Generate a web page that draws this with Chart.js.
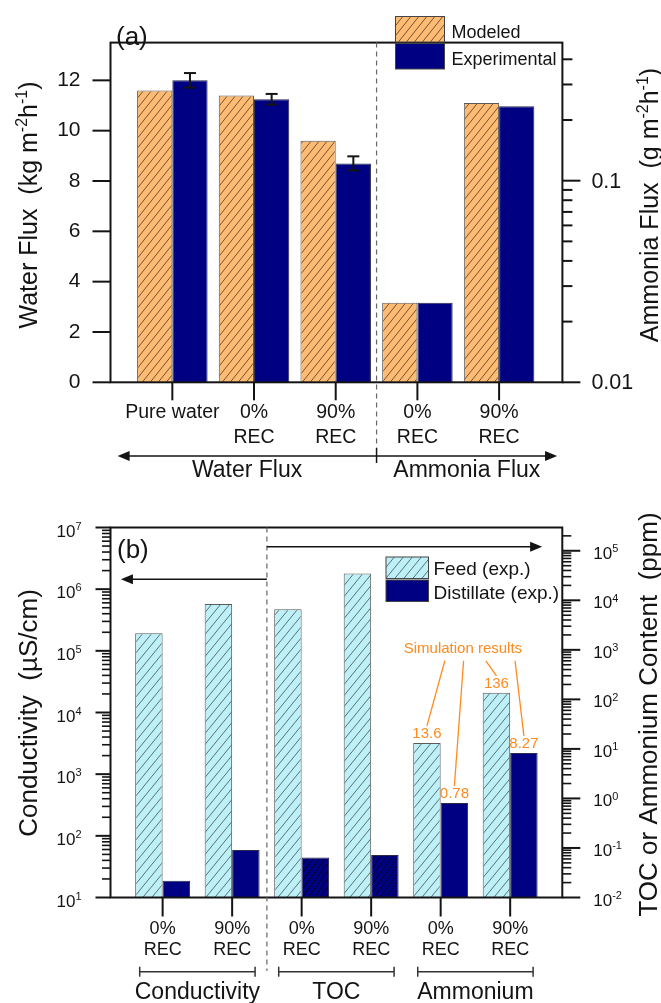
<!DOCTYPE html>
<html>
<head>
<meta charset="utf-8">
<script src="https://cdn.jsdelivr.net/npm/chart.js@4.4.1/dist/chart.umd.min.js"></script>
<style>
  html, body { margin: 0; padding: 0; background: #fff; }
  #wrapA { position: absolute; left: 0; top: 0; }
  #wrapB { position: absolute; left: 0; top: 500px; }
</style>
</head>
<body>
<div id="wrapA"><canvas id="chartA" width="661" height="500"></canvas></div>
<div id="wrapB"><canvas id="chartB" width="661" height="503"></canvas></div>
<script>
'use strict';

// (a) water flux (left axis) and ammonia flux (right, log axis)
const labelsA = [['Pure water'], ['0%', 'REC'], ['90%', 'REC'], ['0%', 'REC'], ['90%', 'REC']];
const waterModeled = [11.6, 11.4, 9.6, null, null];
const waterExp = [12.0, 11.25, 8.7, null, null];
const waterErr = [0.29, 0.21, 0.28, null, null];
const ammoniaModeled = [null, null, null, 0.0248, 0.243];
const ammoniaExp = [null, null, null, 0.0248, 0.234];
const ticksA = [0, 2, 4, 6, 8, 10, 12];
const ticksA2 = [0.01, 0.1];
const groupsA = ['Water Flux', 'Ammonia Flux'];

// (b) feed / distillate, conductivity on the left, TOC + ammonium on the right
const labelsB = [['0%', 'REC'], ['90%', 'REC'], ['0%', 'REC'], ['90%', 'REC'], ['0%', 'REC'], ['90%', 'REC']];
const feedCond = [1.92e5, 5.74e5, null, null, null, null];
const distCond = [18.7, 59, null, null, null, null];
const feedPpm = [null, null, 6600, 34900, 13.2, 136];
const distPpm = [null, null, 0.064, 0.0725, 0.81, 8.3];
const simFeed = [null, null, null, null, '13.6', '136'];
const simDist = [null, null, null, null, '0.78', '8.27'];
const groupsB = ['Conductivity', 'TOC', 'Ammonium'];

const FONT = "'Liberation Sans', Arial, Helvetica, sans-serif";
const INK = '#141414';
const ORANGE = '#FDBB73';
const NAVY = '#000082';
const CYAN = '#BDF0F7';
const SIM = '#FF8A1E';

function hatch(bg, ink, w, h) {
    const c = document.createElement('canvas');
    c.width = w; c.height = h;
    const g = c.getContext('2d');
    g.fillStyle = bg;
    g.fillRect(0, 0, w, h);
    g.strokeStyle = ink;
    g.lineWidth = 1;
    for (let k = -1; k <= 1; k++) {
        g.beginPath(); g.moveTo(k * w, h); g.lineTo(k * w + w, 0); g.stroke();
    }
    return g.createPattern(c, 'repeat');
}

const patModel = hatch(ORANGE, 'rgba(95,65,35,0.85)', 8, 10);
const patFeed = hatch(CYAN, 'rgba(70,80,90,0.8)', 9, 11);
const patNavy = hatch(NAVY, 'rgba(0,0,25,0.9)', 6, 8);

const pts = (arr) => arr.map((v, i) => ({x: i, y: v}));

function line(ctx, x1, y1, x2, y2) {
    ctx.beginPath(); ctx.moveTo(x1, y1); ctx.lineTo(x2, y2); ctx.stroke();
}

function head(ctx, x, y, dir) {
    ctx.beginPath();
    ctx.moveTo(x, y);
    ctx.lineTo(x - dir * 12, y - 5);
    ctx.lineTo(x - dir * 12, y + 5);
    ctx.closePath();
    ctx.fill();
}

function logValues(min, max) {
    const out = [];
    for (let e = Math.floor(Math.log10(min)); e <= Math.ceil(Math.log10(max)); e++) {
        for (let m = 1; m <= 9; m++) {
            const v = m * Math.pow(10, e);
            if (v >= min * 0.999 && v <= max * 1.001) out.push({v, m, e});
        }
    }
    return out;
}

// parts: [text, isSuperscript], y is the baseline
function supText(ctx, parts, x, y, size, align) {
    const small = Math.round(size * 0.62);
    let w = 0;
    const widths = parts.map(([t, s]) => {
        ctx.font = `${s ? small : size}px ${FONT}`;
        const m = ctx.measureText(t).width;
        w += m;
        return m;
    });
    let cx = align === 'center' ? x - w / 2 : align === 'right' ? x - w : x;
    ctx.textAlign = 'left';
    ctx.textBaseline = 'alphabetic';
    parts.forEach(([t, s], i) => {
        ctx.font = `${s ? small : size}px ${FONT}`;
        ctx.fillText(t, cx, s ? y - size * 0.4 : y);
        cx += widths[i];
    });
}

function rotText(ctx, parts, cx, cy, size) {
    ctx.save();
    ctx.translate(cx, cy);
    ctx.rotate(-Math.PI / 2);
    supText(ctx, parts, 0, size * 0.35, size, 'center');
    ctx.restore();
}

function text(ctx, t, x, y, size, align, color) {
    ctx.font = `${size}px ${FONT}`;
    ctx.textAlign = align;
    ctx.textBaseline = 'alphabetic';
    ctx.fillStyle = color || INK;
    ctx.fillText(t, x, y);
}

const hidden = {display: false, drawTicks: false};

// ---------------- chart (a) ----------------
const extrasA = {
    id: 'extrasA',
    afterDatasetsDraw(chart) {
        const ctx = chart.ctx;
        const y = chart.scales.y;
        const meta = chart.getDatasetMeta(1);
        ctx.save();
        ctx.strokeStyle = INK;
        ctx.lineWidth = 2;
        waterErr.forEach((err, i) => {
            if (err == null) return;
            const bx = meta.data[i].x;
            const top = y.getPixelForValue(waterExp[i] + err);
            const bot = y.getPixelForValue(waterExp[i] - err);
            line(ctx, bx, top, bx, bot);
            line(ctx, bx - 6, top, bx + 6, top);
            line(ctx, bx - 6, bot, bx + 6, bot);
        });
        ctx.restore();
    },
    afterDraw(chart) {
        const {ctx, chartArea: a} = chart;
        const {x, y, y2} = chart.scales;
        ctx.save();
        ctx.strokeStyle = INK;
        ctx.fillStyle = INK;
        ctx.lineWidth = 2;
        ctx.strokeRect(a.left, a.top, a.width, a.height);

        ticksA.forEach(v => {
            const py = y.getPixelForValue(v);
            line(ctx, a.left - 18, py, a.left, py);
        });
        logValues(y2.min, y2.max).forEach(t => {
            const py = y2.getPixelForValue(t.v);
            line(ctx, a.right, py, a.right + (t.m === 1 ? 18 : 10), py);
        });
        ctx.font = `21.5px ${FONT}`;
        ctx.textAlign = 'left';
        ctx.textBaseline = 'middle';
        ticksA2.forEach(v => ctx.fillText(String(v), a.right + 29, y2.getPixelForValue(v) + 1));

        labelsA.forEach((_, i) => {
            const px = x.getPixelForValue(i);
            line(ctx, px, a.bottom, px, a.bottom + 18);
        });

        // divider between the two groups
        const xm = x.getPixelForValue(2.5);
        ctx.save();
        ctx.strokeStyle = '#666';
        ctx.lineWidth = 1.2;
        ctx.setLineDash([5, 4]);
        line(ctx, xm, a.top, xm, 448);
        ctx.restore();

        // group arrows
        const xl = x.getPixelForValue(-0.67);
        const xr = x.getPixelForValue(4.71);
        ctx.lineWidth = 1.5;
        line(ctx, xl + 4, 456, xr - 4, 456);
        line(ctx, xm, 448, xm, 463);
        head(ctx, xl, 456, -1);
        head(ctx, xr, 456, 1);
        text(ctx, groupsA[0], (xl + xm) / 2, 477, 23, 'center');
        text(ctx, groupsA[1], (xm + xr) / 2, 477, 23, 'center');

        text(ctx, '(a)', 116, 45, 26, 'left');

        // legend
        const ds = chart.data.datasets;
        [[patModel, 16.5, 37.5], [NAVY, 43.5, 64.8]].forEach(([fill, top, base], k) => {
            ctx.fillStyle = fill;
            ctx.fillRect(395.5, top, 49, 25.5);
            ctx.strokeStyle = '#444';
            ctx.lineWidth = 1;
            ctx.strokeRect(395.5, top, 49, 25.5);
            text(ctx, ds[k].label, 451.5, base, 18, 'left');
        });

        ctx.fillStyle = INK;
        rotText(ctx, [['Water Flux  (kg m', 0], ['-2', 1], ['h', 0], ['-1', 1], [')', 0]], 28, 205, 25);
        rotText(ctx, [['Ammonia Flux  (g m', 0], ['-2', 1], ['h', 0], ['-1', 1], [')', 0]], 649, 205, 25);
        ctx.restore();
    }
};

const barBase = {skipNull: true, categoryPercentage: 0.863, barPercentage: 1, borderWidth: 1};

new Chart(document.getElementById('chartA'), {
    type: 'bar',
    data: {
        datasets: [
            {...barBase, label: 'Modeled', data: pts(waterModeled), yAxisID: 'y', backgroundColor: patModel, borderColor: '#5a5a5a'},
            {...barBase, label: 'Experimental', data: pts(waterExp), yAxisID: 'y', backgroundColor: NAVY, borderColor: '#2a2a4a'},
            {...barBase, label: 'Modeled', data: pts(ammoniaModeled), yAxisID: 'y2', backgroundColor: patModel, borderColor: '#5a5a5a'},
            {...barBase, label: 'Experimental', data: pts(ammoniaExp), yAxisID: 'y2', backgroundColor: NAVY, borderColor: '#2a2a4a'}
        ]
    },
    options: {
        responsive: false,
        animation: false,
        devicePixelRatio: 1,
        layout: {padding: {top: 13.3, left: 0, right: 0, bottom: 0}},
        plugins: {legend: {display: false}, tooltip: {enabled: false}},
        scales: {
            x: {
                type: 'linear', min: -0.757, max: 4.775, offset: false,
                afterBuildTicks: (s) => { s.ticks = labelsA.map((_, i) => ({value: i})); },
                afterFit: (s) => { s.height = 500 - 382.3; },
                grid: hidden,
                border: {display: false},
                ticks: {
                    callback: (v) => labelsA[v],
                    autoSkip: false, maxRotation: 0, minRotation: 0, padding: 18,
                    color: INK, font: {family: FONT, size: 19.5, lineHeight: 1.26}
                }
            },
            y: {
                position: 'left', min: 0, max: 13.5,
                afterBuildTicks: (s) => { s.ticks = ticksA.map(v => ({value: v})); },
                afterFit: (s) => { s.width = 110.5; },
                grid: hidden,
                border: {display: false},
                ticks: {padding: 30, color: INK, font: {family: FONT, size: 21}}
            },
            y2: {
                type: 'logarithmic', position: 'right', min: 0.01, max: 0.484,
                afterFit: (s) => { s.width = 661 - 562.4; },
                grid: hidden,
                border: {display: false},
                ticks: {display: false}
            }
        }
    },
    plugins: [extrasA]
});

// ---------------- chart (b) ----------------
function expLabel(ctx, e, x, y, align) {
    const parts = [['10', 0], [String(e), 1]];
    supText(ctx, parts, x, y, 17, align);
}

const extrasB = {
    id: 'extrasB',
    afterDatasetsDraw(chart) {
        const ctx = chart.ctx;
        const y2 = chart.scales.y2;
        const mf = chart.getDatasetMeta(2);
        const md = chart.getDatasetMeta(3);
        const x = chart.scales.x;
        ctx.save();
        ctx.fillStyle = SIM;
        ctx.strokeStyle = SIM;
        ctx.lineWidth = 1.3;
        const ends = [];
        simFeed.forEach((t, i) => {
            if (!t) return;
            [[mf, t], [md, simDist[i]]].forEach(([meta, label]) => {
                const el = meta.data[i];
                text(ctx, label, el.x, el.y - 4.5, 15, 'center', SIM);
                ends.push([el.x, el.y - 17]);
            });
        });
        // callout
        const ty = y2.getPixelForValue(1100);
        text(ctx, 'Simulation results', x.getPixelForValue(4.32), ty + 5.4, 15, 'center', SIM);
        [4.06, 4.33, 4.65, 5.07].forEach((v, k) => {
            line(ctx, x.getPixelForValue(v), ty + 13, ends[k][0], ends[k][1]);
        });
        ctx.restore();
    },
    afterDraw(chart) {
        const {ctx, chartArea: a} = chart;
        const {x, y, y2} = chart.scales;
        ctx.save();
        ctx.strokeStyle = INK;
        ctx.fillStyle = INK;
        ctx.lineWidth = 2;
        ctx.strokeRect(a.left, a.top, a.width, a.height);

        logValues(y.min, y.max).forEach(t => {
            const py = y.getPixelForValue(t.v);
            ctx.lineWidth = t.m === 1 ? 2 : 1.6;
            line(ctx, a.left - (t.m === 1 ? 15 : 8.5), py, a.left, py);
            if (t.m === 1) expLabel(ctx, t.e, a.left - 29, py + 9, 'right');
        });
        logValues(y2.min, y2.max).forEach(t => {
            const py = y2.getPixelForValue(t.v);
            ctx.lineWidth = t.m === 1 ? 2 : 1.6;
            line(ctx, a.right, py, a.right + (t.m === 1 ? 18 : 9), py);
            if (t.m === 1) expLabel(ctx, t.e, a.right + 31, py + 8, 'left');
        });

        ctx.lineWidth = 2;
        labelsB.forEach((_, i) => {
            const px = x.getPixelForValue(i);
            line(ctx, px, a.bottom, px, a.bottom + 19);
        });

        // divider and axis arrows
        const xm = x.getPixelForValue(1.5);
        ctx.save();
        ctx.strokeStyle = '#666';
        ctx.lineWidth = 1.2;
        ctx.setLineDash([5, 4]);
        line(ctx, xm, a.top, xm, 471);
        ctx.restore();
        ctx.lineWidth = 1.5;
        const xr = x.getPixelForValue(5.46);
        const xl = x.getPixelForValue(-0.6);
        line(ctx, xm, 46.7, xr - 4, 46.7);
        head(ctx, xr, 46.7, 1);
        line(ctx, xm, 79.3, xl + 4, 79.3);
        head(ctx, xl, 79.3, -1);

        // group brackets
        ctx.strokeStyle = '#333';
        groupsB.forEach((g, k) => {
            const x1 = x.getPixelForValue(2 * k - 0.33);
            const x2 = x.getPixelForValue(2 * k + 1.33);
            line(ctx, x1, 471.7, x2, 471.7);
            line(ctx, x1, 466.7, x1, 476.7);
            line(ctx, x2, 466.7, x2, 476.7);
            text(ctx, g, (x1 + x2) / 2, 498.5, 23, 'center');
        });

        text(ctx, '(b)', 117, 58, 26, 'left');

        // legend
        const ds = chart.data.datasets;
        [[patFeed, 57, 75], [NAVY, 80, 98.5]].forEach(([fill, top, base], k) => {
            ctx.fillStyle = fill;
            ctx.fillRect(386, top, 42.5, 21.5);
            ctx.strokeStyle = '#444';
            ctx.lineWidth = 1;
            ctx.strokeRect(386, top, 42.5, 21.5);
            text(ctx, ds[k].label, 433.5, base, 19, 'left');
        });

        ctx.fillStyle = INK;
        rotText(ctx, [['Conductivity  (µS/cm)', 0]], 28, 213, 26);
        rotText(ctx, [['TOC or Ammonium Content  (ppm)', 0]], 648, 214.5, 26);
        ctx.restore();
    }
};

const barBaseB = {skipNull: true, categoryPercentage: 0.79, barPercentage: 1, borderWidth: 1};

new Chart(document.getElementById('chartB'), {
    type: 'bar',
    data: {
        datasets: [
            {...barBaseB, label: 'Feed (exp.)', data: pts(feedCond), yAxisID: 'y', backgroundColor: patFeed, borderColor: '#5a5a5a'},
            {...barBaseB, label: 'Distillate (exp.)', data: pts(distCond), yAxisID: 'y', backgroundColor: NAVY, borderColor: '#2a2a4a'},
            {...barBaseB, label: 'Feed (exp.)', data: pts(feedPpm), yAxisID: 'y2', backgroundColor: patFeed, borderColor: '#5a5a5a'},
            {...barBaseB, label: 'Distillate (exp.)', data: pts(distPpm), yAxisID: 'y2',
                backgroundColor: distPpm.map((_, i) => (i === 2 || i === 3) ? patNavy : NAVY), borderColor: '#2a2a4a'}
        ]
    },
    options: {
        responsive: false,
        animation: false,
        devicePixelRatio: 1,
        layout: {padding: {top: 27.5, left: 0, right: 0, bottom: 0}},
        plugins: {legend: {display: false}, tooltip: {enabled: false}},
        scales: {
            x: {
                type: 'linear', min: -0.75, max: 5.75, offset: false,
                afterBuildTicks: (s) => { s.ticks = labelsB.map((_, i) => ({value: i})); },
                afterFit: (s) => { s.height = 503 - 397.5; },
                grid: hidden,
                border: {display: false},
                ticks: {
                    callback: (v) => labelsB[v],
                    autoSkip: false, maxRotation: 0, minRotation: 0, padding: 21,
                    color: INK, font: {family: FONT, size: 18, lineHeight: 1.17}
                }
            },
            y: {
                type: 'logarithmic', position: 'left', min: 10, max: 1e7,
                afterFit: (s) => { s.width = 110.5; },
                grid: hidden,
                border: {display: false},
                ticks: {display: false}
            },
            y2: {
                type: 'logarithmic', position: 'right', min: 0.01, max: 2.95e5,
                afterFit: (s) => { s.width = 661 - 562.3; },
                grid: hidden,
                border: {display: false},
                ticks: {display: false}
            }
        }
    },
    plugins: [extrasB]
});
</script>
</body>
</html>
